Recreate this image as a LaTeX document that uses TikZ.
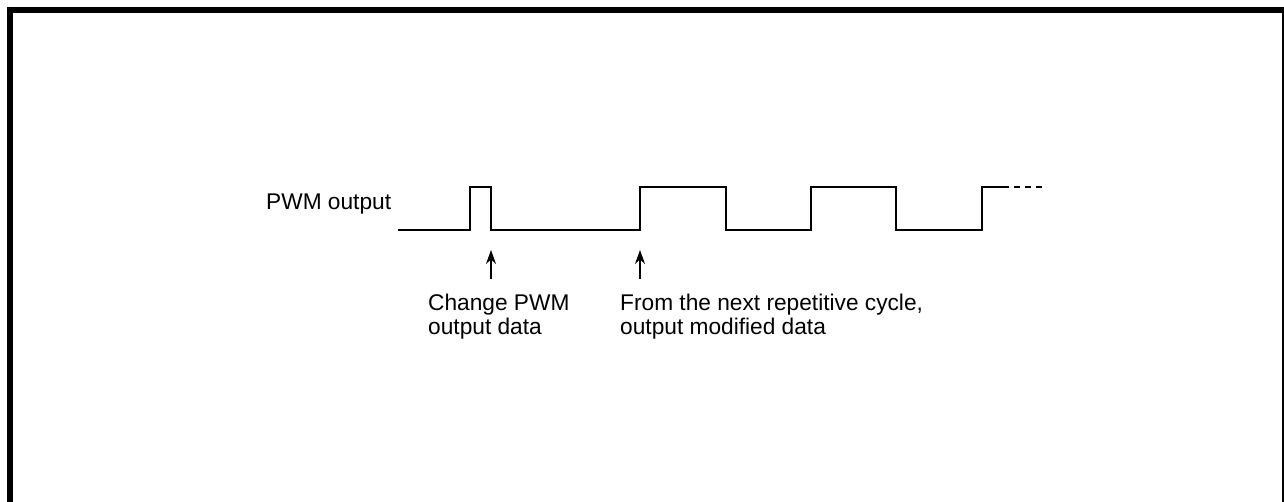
\documentclass[tikz,border=0pt]{standalone}
\usepackage{fontspec}
\setmainfont{Liberation Sans}
\usetikzlibrary{arrows.meta}
\begin{document}
\begin{tikzpicture}[x=1pt,y=-1pt,
  wave/.style={line width=1.4pt,black},
  pointer/.style={line width=1.1pt,-{Stealth[length=14pt,width=10pt]}},
  lbl/.style={font=\fontsize{22.7}{24.5}\selectfont,inner sep=0pt,align=left}]
\useasboundingbox (0,0) rectangle (1284,502);
\begin{scope}
\clip (0,0) rectangle (1284,502);
\draw[line width=5.5pt] (10,600) -- (10,10) -- (1284.5,10) -- (1284.5,600);
\end{scope}
% waveform
\coordinate (w0) at (398,230);
\coordinate (r1) at (470,230);
\coordinate (f1) at (491,230);
\coordinate (r2) at (640,230);
\coordinate (f2) at (726,230);
\coordinate (r3) at (811,230);
\coordinate (f3) at (896,230);
\coordinate (r4) at (982,230);
\coordinate (s4) at (1003,187);
\coordinate (e4) at (1045,187);
\draw[wave] (w0) -- (r1) -- (470,187) -- (491,187) -- (f1) -- (r2) -- (640,187) -- (726,187) -- (f2) -- (r3) -- (811,187) -- (896,187) -- (f3) -- (r4) -- (982,187) -- (s4);
\draw[wave,dash pattern=on 6pt off 5pt] (s4) -- (e4);
% arrows
\coordinate (a1s) at (491,279);
\coordinate (a1e) at (491,250);
\coordinate (a2s) at (640,279);
\coordinate (a2e) at (640,250);
\draw[pointer] (a1s) -- (a1e);
\draw[pointer] (a2s) -- (a2e);
% labels
\node[lbl,anchor=base west] (pwm) at (266,210) {PWM output};
\node[lbl,anchor=north west] (chg) at (428,293.5) {Change PWM\\output data};
\node[lbl,anchor=north west] (nxt) at (620,293.5) {From the next repetitive cycle,\\output modified data};
\end{tikzpicture}
\end{document}
